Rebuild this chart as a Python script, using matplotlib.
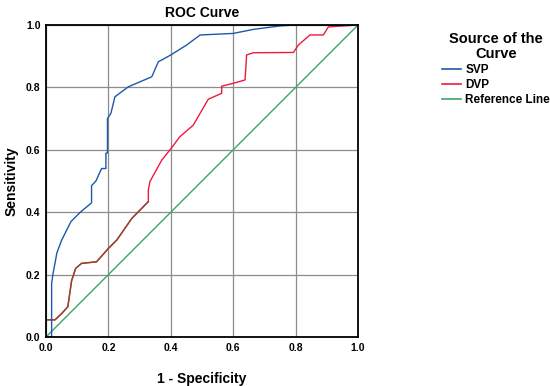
import numpy as np
import matplotlib
matplotlib.use('Agg')
from matplotlib import pyplot as plt
from matplotlib.lines import Line2D

plt.rcParams['font.family'] = ['Liberation Sans', 'DejaVu Sans']
plt.rcParams['font.weight'] = 'bold'

# curva SVP (1 - especificidad, sensibilidad)
svp_x = [0.0, 0.018, 0.018, 0.022, 0.035, 0.05, 0.08, 0.11, 0.146, 0.146, 0.16, 0.178,
         0.192, 0.192, 0.197, 0.197, 0.208, 0.221, 0.264, 0.339, 0.36, 0.40, 0.451,
         0.494, 0.60, 0.665, 0.75, 0.80, 1.0]
svp_y = [0.0, 0.0, 0.17, 0.20, 0.27, 0.31, 0.37, 0.40, 0.43, 0.485, 0.50, 0.54,
         0.54, 0.589, 0.59, 0.70, 0.717, 0.77, 0.802, 0.834, 0.882, 0.904, 0.936,
         0.968, 0.973, 0.986, 0.997, 1.0, 1.0]

# curva DVP
dvp_x = [0.0, 0.0, 0.029, 0.05, 0.07, 0.082, 0.095, 0.114, 0.162, 0.20, 0.227, 0.275,
         0.328, 0.328, 0.333, 0.371, 0.40, 0.429, 0.472, 0.52, 0.563, 0.563, 0.60,
         0.638, 0.643, 0.664, 0.793, 0.809, 0.846, 0.889, 0.905, 1.0]
dvp_y = [0.0, 0.055, 0.055, 0.075, 0.097, 0.18, 0.22, 0.236, 0.241, 0.284, 0.311, 0.38,
         0.434, 0.471, 0.498, 0.567, 0.603, 0.642, 0.679, 0.762, 0.781, 0.804, 0.813,
         0.824, 0.904, 0.911, 0.912, 0.936, 0.968, 0.968, 0.994, 1.0]
dvp_oscuro = 13  # tramo inferior que se ve marron

ref_x = [0.0, 1.0]
ref_y = [0.0, 1.0]

c_svp = '#1b5aa8'
c_dvp = '#f0193c'
c_ref = '#3aa66a'

fig = plt.figure(figsize=(5.5, 3.86), dpi=100)
ax = fig.add_axes([46/550, 1 - 337/386, 312/550, 312/386])

ax.plot(ref_x, ref_y, color=c_ref, lw=1.0)
ax.plot(dvp_x, dvp_y, color=c_dvp, lw=1.0)
ax.plot(dvp_x[:dvp_oscuro], dvp_y[:dvp_oscuro], color='#8a4a30', lw=1.0)
ax.plot(svp_x, svp_y, color=c_svp, lw=1.0)

ax.set_xlim(0, 1)
ax.set_ylim(0, 1)
ticks = np.arange(0, 1.01, 0.2)
ax.set_xticks(ticks)
ax.set_yticks(ticks)
ax.set_xticklabels(['%.1f' % t for t in ticks], fontsize=7.5)
ax.set_yticklabels(['%.1f' % t for t in ticks], fontsize=7.5)
ax.tick_params(length=0, pad=4)
ax.grid(True, color='#8c8c8c', lw=0.9)
ax.set_axisbelow(True)
for s in ax.spines.values():
    s.set_linewidth(1.3)
    s.set_color('black')

ax.set_title('ROC Curve', fontsize=10, fontweight='bold', pad=6)
ax.set_xlabel('1 - Specificity', fontsize=10, fontweight='bold', labelpad=14)
fig.text(12/550, 1 - 181/386, 'Sensitivity', rotation=90, fontsize=10,
         fontweight='bold', ha='center', va='center')

handles = [Line2D([], [], color=c_svp, lw=1.2),
           Line2D([], [], color=c_dvp, lw=1.2),
           Line2D([], [], color=c_ref, lw=1.2)]
leg = fig.legend(handles, ['SVP', 'DVP', 'Reference Line'], title='Source of the\nCurve',
                 loc='upper left', bbox_to_anchor=(437/550, 1 - 27/386), frameon=False,
                 fontsize=8.5, handlelength=1.6, handletextpad=0.4, labelspacing=0.25,
                 borderaxespad=0, alignment='center')
leg.get_title().set_fontsize(10.5)
leg.get_title().set_fontweight('bold')
leg.get_title().set_multialignment('center')
leg.get_title().set_linespacing(1.15)

plt.savefig('out.png', dpi=100)
